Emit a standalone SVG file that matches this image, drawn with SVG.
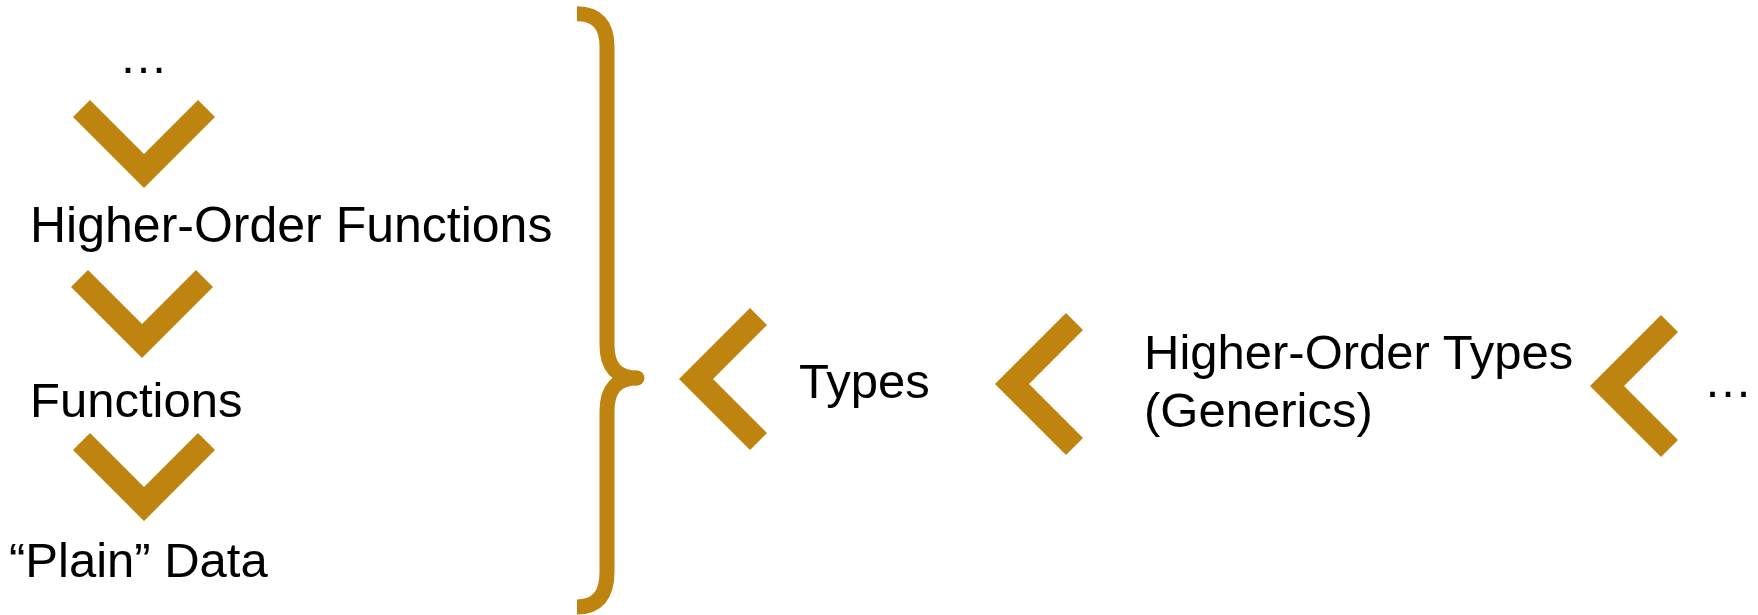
<svg xmlns="http://www.w3.org/2000/svg" width="1758" height="615" viewBox="0 0 1758 615">
  <style>
    .t { font-family: "Liberation Sans", Arial, sans-serif; font-size: 49px; fill: #000; }
    .chev { fill: #BF830F; }
    .brace { fill: none; stroke: #BF830F; stroke-width: 15; }
  </style>
  <defs>
    <path id="down" d="M-71,-37 L-54,-54 L0,0 L54,-54 L71,-37 L0,34 Z"/>
    <path id="left" d="M37,-71 L54,-54 L0,0 L54,54 L37,71 L-34,0 Z"/>
  </defs>
  <rect width="1758" height="615" fill="#fff"/>

  <g id="node-ellipsis-top"><text class="t" x="143.5" y="73" text-anchor="middle">…</text></g>
  <g id="node-hof"><text class="t" x="30" y="242" style="font-size:50px">Higher-Order Functions</text></g>
  <g id="node-functions"><text class="t" x="30" y="417">Functions</text></g>
  <g id="node-plain-data"><text class="t" x="9" y="577">“Plain” Data</text></g>
  <g id="node-types"><text class="t" x="799" y="398">Types</text></g>
  <g id="node-hot"><text class="t" x="1144" y="369">Higher-Order Types</text><text class="t" x="1144" y="427">(Generics)</text></g>
  <g id="node-ellipsis-right"><text class="t" x="1728" y="397" text-anchor="middle">…</text></g>

  <g id="brace">
    <path class="brace" stroke-linecap="butt" d="M577,13.7 Q607,13.7 607,47 L607,345 Q607,378 637,378 Q607,378 607,411 L607,572 Q607,607 577,607"/>
    <circle cx="637" cy="378" r="7.5" fill="#BF830F"/>
  </g>

  <g id="connectors">
    <use href="#down" class="chev" transform="translate(144,154)"/>
    <use href="#down" class="chev" transform="translate(142,324)"/>
    <use href="#down" class="chev" transform="translate(144,487)"/>
    <use href="#left" class="chev" transform="translate(713,379)"/>
    <use href="#left" class="chev" transform="translate(1029,384)"/>
    <use href="#left" class="chev" transform="translate(1624,386)"/>
  </g>
</svg>
